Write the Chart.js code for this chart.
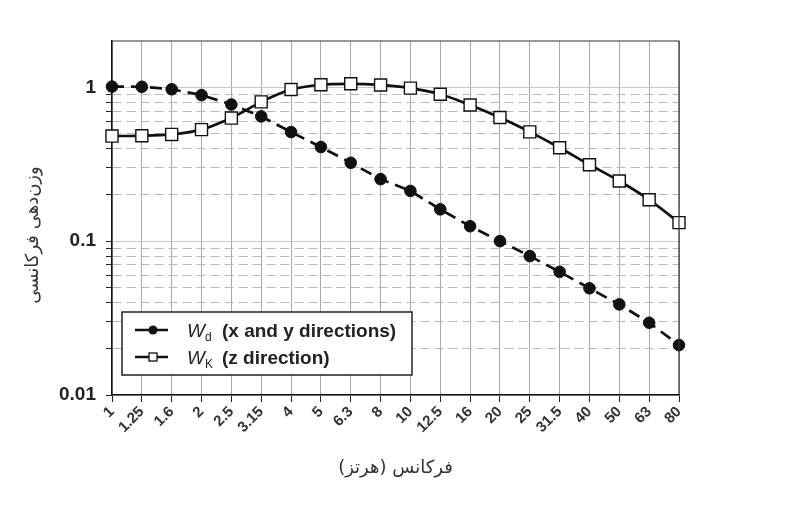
<!DOCTYPE html>
<html>
<head>
<meta charset="utf-8">
<script src="https://cdn.jsdelivr.net/npm/chart.js@4.4.1/dist/chart.umd.min.js"></script>
<style>
html,body{margin:0;padding:0;background:#fff;}
#wrap{width:789px;height:505px;}
</style>
</head>
<body>
<div id="wrap"><canvas id="c" width="789" height="505"></canvas></div>
<script>
const categories = ['1','1.25','1.6','2','2.5','3.15','4','5','6.3','8','10','12.5','16','20','25','31.5','40','50','63','80'];
const wdValues = [1.011,1.008,0.971,0.890,0.773,0.647,0.512,0.409,0.323,0.253,0.212,0.161,0.125,0.100,0.080,0.0632,0.0494,0.0388,0.0295,0.0211];
const wkValues = [0.482,0.484,0.494,0.531,0.631,0.804,0.967,1.039,1.054,1.036,0.988,0.902,0.768,0.636,0.513,0.405,0.314,0.246,0.186,0.132];
const yTickValues = [0.01,0.02,0.03,0.04,0.05,0.06,0.07,0.08,0.09,0.1,0.2,0.3,0.4,0.5,0.6,0.7,0.8,0.9,1];
const yTickLabels = {'0.01':'0.01','0.1':'0.1','1':'1'};
const xTitle = 'فرکانس (هرتز)';
const yTitle = 'وزن‌دهی فرکانسی';
const legendItems = [
  {main:'W', sub:'d', text:'(x and y directions)', marker:'circle'},
  {main:'W', sub:'K', text:'(z direction)', marker:'rect'}
];

const isMajor = v => Math.abs(Math.log10(v) - Math.round(Math.log10(v))) < 1e-6;

const framePlugin = {
  id:'frame',
  afterDraw(chart){
    const {ctx, chartArea:ca} = chart;
    ctx.save();
    ctx.strokeStyle = '#333';
    ctx.lineWidth = 1.2;
    ctx.beginPath();
    ctx.moveTo(ca.left, ca.top);
    ctx.lineTo(ca.right, ca.top);
    ctx.lineTo(ca.right, ca.bottom);
    ctx.stroke();
    // y title
    ctx.translate(33, 235);
    ctx.rotate(-Math.PI/2);
    ctx.fillStyle = '#333';
    ctx.font = '18px "DejaVu Sans"';
    ctx.textAlign = 'center';
    ctx.textBaseline = 'middle';
    ctx.fillText(yTitle, 0, 0);
    ctx.restore();

    // legend
    const x0 = ca.left + 10, y0 = ca.bottom - 83;
    ctx.save();
    ctx.fillStyle = '#fff';
    ctx.fillRect(x0, y0, 290, 63);
    ctx.strokeStyle = '#222';
    ctx.lineWidth = 1.5;
    ctx.strokeRect(x0, y0, 290, 63);
    legendItems.forEach((it, i) => {
      const y = y0 + 18 + i*27;
      ctx.strokeStyle = '#111';
      ctx.lineWidth = 2.5;
      ctx.beginPath();
      ctx.moveTo(x0+13, y); ctx.lineTo(x0+46, y); ctx.stroke();
      ctx.lineWidth = 1.3;
      if (it.marker === 'circle') {
        ctx.fillStyle = '#111';
        ctx.beginPath(); ctx.arc(x0+31, y, 4.5, 0, Math.PI*2); ctx.fill();
      } else {
        ctx.fillStyle = '#fff';
        ctx.fillRect(x0+27, y-4, 8, 8);
        ctx.strokeRect(x0+27, y-4, 8, 8);
      }
      ctx.fillStyle = '#222';
      ctx.textBaseline = 'alphabetic';
      ctx.textAlign = 'left';
      ctx.font = 'italic 19px "Liberation Sans"';
      ctx.fillText(it.main, x0+65, y+7);
      ctx.font = '12px "Liberation Sans"';
      ctx.fillText(it.sub, x0+83, y+11);
      ctx.font = 'bold 19px "Liberation Sans"';
      ctx.fillText(it.text, x0+100, y+7);
    });
    ctx.restore();
  }
};

new Chart(document.getElementById('c'), {
  type:'line',
  data:{
    labels: categories,
    datasets:[
      {
        label:'Wd (x and y directions)',
        data: wdValues,
        borderColor:'#111',
        borderWidth:2.7,
        borderDash:[12,7],
        pointStyle:'circle',
        pointRadius:5.8,
        pointBackgroundColor:'#111',
        pointBorderColor:'#111',
        pointBorderWidth:1,
        tension:0
      },
      {
        label:'WK (z direction)',
        data: wkValues,
        borderColor:'#111',
        borderWidth:2.7,
        pointStyle:'rect',
        pointRadius:8.5,
        pointBackgroundColor:'#fff',
        pointBorderColor:'#111',
        pointBorderWidth:1.4,
        tension:0.2
      }
    ]
  },
  options:{
    responsive:false,
    animation:false,
    devicePixelRatio:1,
    layout:{padding:{left:0,top:41,right:110,bottom:0}},
    plugins:{legend:{display:false}, tooltip:{enabled:false}},
    scales:{
      x:{
        type:'category',
        offset:false,
        grid:{color:'#a8a8a8', lineWidth:1, tickLength:7, tickColor:'#222', offset:false},
        border:{color:'#111', width:1.5},
        ticks:{autoSkip:false, minRotation:45, maxRotation:45, padding:1, color:'#333', font:{family:'"Liberation Sans"', size:15, weight:'bold'}},
        title:{display:true, text:xTitle, color:'#333', font:{family:'"DejaVu Sans"', size:18}, padding:{top:0,bottom:26}},
        afterFit(s){ s.height = 110; }
      },
      y:{
        type:'logarithmic',
        min:0.01,
        max:2,
        afterBuildTicks(s){ s.ticks = yTickValues.map(v => ({value:v, major:isMajor(v)})); },
        grid:{
          color: c => (c.tick && isMajor(c.tick.value)) ? '#c8c8c8' : '#b8b8b8',
          lineWidth:1,
          tickLength:6,
          tickColor:'#222'
        },
        border:{
          color:'#111', width:1.5,
          dash: c => (c.tick && !isMajor(c.tick.value)) ? [9,5] : []
        },
        ticks:{
          autoSkip:false,
          padding:10,
          color:'#222',
          font:{family:'"Liberation Sans"', size:19, weight:'bold'},
          callback:(v) => { const k = String(+v.toPrecision(6)); return yTickLabels[k] !== undefined ? yTickLabels[k] : ''; }
        },
        afterFit(s){ s.width = 112; }
      }
    }
  },
  plugins:[framePlugin]
});
</script>
</body>
</html>
